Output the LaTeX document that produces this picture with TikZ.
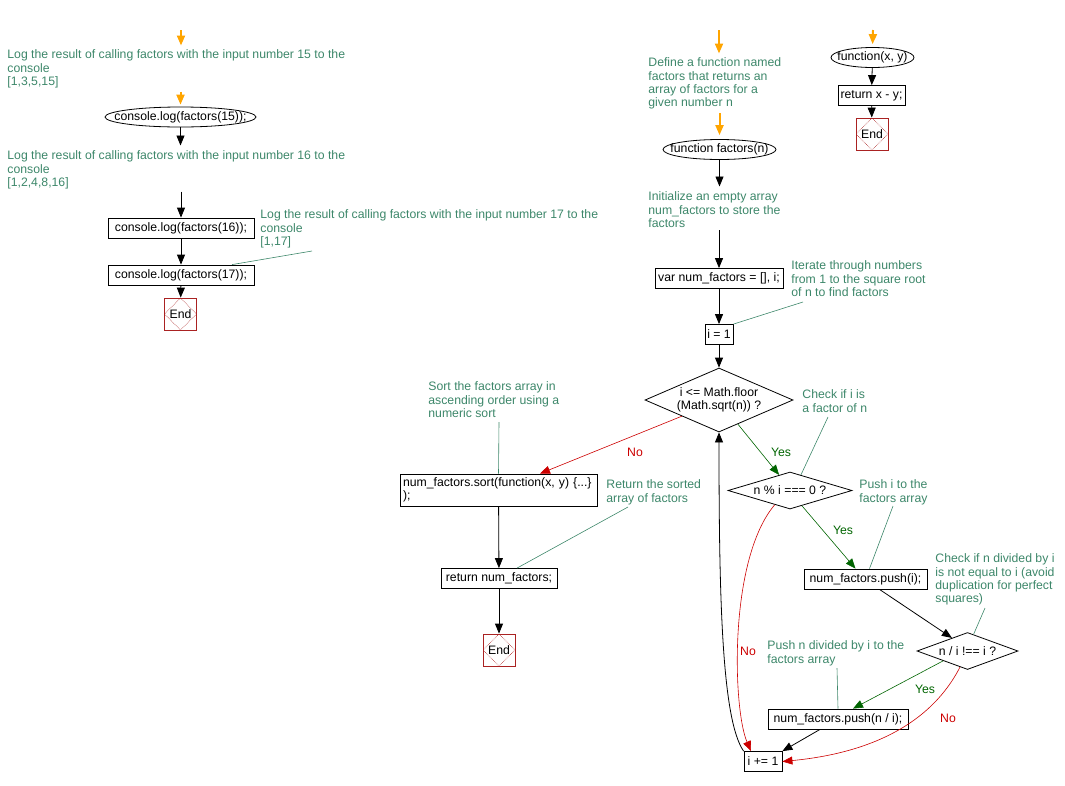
\documentclass[tikz,border=0pt]{standalone}
\usepackage{fontspec}
\setmainfont{Liberation Sans}
\usepackage{tikz}
\usetikzlibrary{arrows.meta,shapes.geometric,positioning,calc}
\definecolor{notegreen}{RGB}{61,135,106}
\definecolor{yesgreen}{RGB}{0,100,0}
\definecolor{nored}{RGB}{204,0,0}
\definecolor{endred}{RGB}{170,34,34}
\definecolor{startorange}{RGB}{255,165,0}

\begin{document}
\begin{tikzpicture}[x=1pt, y=-1pt, font=\fontsize{12.25}{13.4}\selectfont,
        line width=0.8pt, >={Triangle[length=10pt,width=8pt]},
        note/.style={anchor=north west, inner sep=0pt, text=notegreen, align=left},
        noteline/.style={draw=notegreen, line width=0.6pt},
        flow/.style={->, draw=black},
        startflow/.style={->, draw=startorange, line width=2pt},
        yesflow/.style={->, draw=yesgreen, line width=0.6pt},
        noflow/.style={->, draw=nored, line width=0.6pt},
        box/.style={draw, rectangle, minimum height=20pt, inner sep=0pt},
        term/.style={draw, ellipse, inner sep=0pt, minimum height=20pt},
        cond/.style={draw, diamond, inner sep=0pt},
        endnode/.style={draw=endred, rectangle, minimum size=32pt, inner sep=0pt,
            path picture={\draw[endred, densely dotted, line width=0.6pt]
                (path picture bounding box.north) -- (path picture bounding box.east) --
                (path picture bounding box.south) -- (path picture bounding box.west) -- cycle;}},
        yes/.style={text=yesgreen, inner sep=0pt},
        no/.style={text=nored, inner sep=0pt}]
    \useasboundingbox (0,0) rectangle (1065,785);

    % calls on the left
    \coordinate (s15) at (181,30);
    \node[note] (c15) at (7,49.5) {Log the result of calling factors with the input number 15 to the\\console\\{[1,3,5,15]}};
    \node[term, minimum width=151pt, label={center:console.log(factors(15));}] (e15) at (180.5,117) {};
    \node[note] (c16) at (7,150.5) {Log the result of calling factors with the input number 16 to the\\console\\{[1,2,4,8,16]}};
    \node[box, minimum width=146pt] (b16) at (181,228) {console.log(factors(16));};
    \node[box, minimum width=146pt] (b17) at (181,275) {console.log(factors(17));};
    \node[note] (c17) at (260,209.5) {Log the result of calling factors with the input number 17 to the\\console\\{[1,17]}};
    \coordinate (k17) at (312,251);
    \node[endnode] (end1) at (180.5,314) {End};

    \draw[startflow, shorten >=4pt] (s15) -- (s15 |- c15.north);
    \draw[startflow, shorten <=3pt, shorten >=2pt] (e15.north |- c15.south) -- (e15.north);
    \draw[flow, shorten >=5pt] (e15.south) -- (e15.south |- c16.north);
    \draw[flow, shorten <=2pt] (b16.north |- c16.south) -- (b16.north);
    \draw[flow] (b16) -- (b17);
    \draw[flow] (b17) -- (end1);
    \draw[noteline] (k17) -- ([xshift=51pt]b17.north);

    % function factors(n)
    \coordinate (sfn) at (719,30);
    \node[note] (cdef) at (648,57.5) {Define a function named\\factors that returns an\\array of factors for a\\given number n};
    \node[term, minimum width=113pt, label={center:function factors(n)}] (efn) at (719.5,149.5) {};
    \node[note] (cinit) at (648,191.5) {Initialize an empty array\\num\_factors to store the\\factors};
    \node[box, minimum width=128pt] (var) at (719,278.5) {var num\_factors = [], i;};
    \node[note] (citer) at (791,260.5) {Iterate through numbers\\from 1 to the square root\\of n to find factors};
    \coordinate (kiter) at (803,302);
    \node[box, minimum width=28pt] (i1) at (719,334.5) {i = 1};
    \node[cond, minimum width=148pt, minimum height=64pt,
        label={[align=center]center:{i <= Math.floor\\(Math.sqrt(n)) ?}}] (d1) at (719,400) {};
    \node[note] (cchk) at (802,389.5) {Check if i is\\a factor of n};
    \coordinate (kchk) at (828,417);
    \node[cond, minimum width=124pt, minimum height=37pt, label={center:n \% i === 0 ?}] (d2) at (790,490.5) {};
    \node[note] (cpush) at (859,479.5) {Push i to the\\factors array};
    \coordinate (kpush) at (893,506);
    \node[box, minimum width=123pt] (pi) at (865.5,579) {num\_factors.push(i);};
    \node[note] (cne) at (935,553.5) {Check if n divided by i\\is not equal to i (avoid\\duplication for perfect\\squares)};
    \coordinate (kne) at (985,608);
    \node[cond, minimum width=101pt, minimum height=37pt, label={center:n / i !== i ?}] (d3) at (967.5,651) {};
    \node[note] (cpn) at (767,640.5) {Push n divided by i to the\\factors array};
    \coordinate (kpn) at (837,668);
    \node[box, minimum width=140pt] (pn) at (838,719) {num\_factors.push(n / i);};
    \node[box, minimum width=38pt] (inc) at (763,761.5) {i += 1};

    % sort and return
    \node[note] (csort) at (428,381.5) {Sort the factors array in\\ascending order using a\\numeric sort};
    \coordinate (ksort) at (499,422);
    \node[box, minimum width=197pt, minimum height=32pt, text width=191pt, align=left] (sb) at (498.5,490)
        {num\_factors.sort(function(x, y) \{...\}\\);};
    \node[note] (cret) at (606,479.5) {Return the sorted\\array of factors};
    \coordinate (kret) at (628,507);
    \node[box, minimum width=116pt] (ret) at (499,578.5) {return num\_factors;};
    \node[endnode] (end2) at (499,650) {End};

    % compare function
    \coordinate (sxy) at (873,30);
    \node[term, minimum width=83pt, label={center:function(x, y)}] (fxy) at (872.5,57.5) {};
    \node[box, minimum width=67pt] (rxy) at (871.5,95.5) {return x - y;};
    \node[endnode] (end3) at (872,134) {End};

    \node[yes] (y1) at (781,452) {Yes};
    \node[yes] (y2) at (843,530) {Yes};
    \node[yes] (y3) at (925,689) {Yes};
    \node[no] (n1) at (635,452) {No};
    \node[no] (n2) at (748,651) {No};
    \node[no] (n3) at (948,718) {No};

    \draw[startflow, shorten >=4pt] (sfn) -- (sfn |- cdef.north);
    \draw[startflow, shorten <=3pt, shorten >=4pt] (efn.north |- cdef.south) -- (efn.north);
    \draw[flow, shorten >=5pt] (efn.south) -- (efn.south |- cinit.north);
    \draw[flow, shorten <=2pt] (var.north |- cinit.south) -- (var.north);
    \draw[flow] (var) -- (i1);
    \draw[flow] (i1) -- (d1);
    \draw[noteline] (kiter) -- (i1.north east);
    \draw[noteline] (kchk) -- (d2.55);
    \draw[yesflow] (d1.-52) -- (d2.125);
    \draw[noflow] (d1.south west) -- ([xshift=41.5pt]sb.north);
    \draw[noteline] (ksort) -- (sb.north);
    \draw[flow] (sb) -- (ret);
    \draw[flow] (ret) -- (end2);
    \draw[noteline] (kret) -- ([xshift=18pt]ret.north);
    \draw[yesflow] (d2.-52) -- ([xshift=-10pt]pi.north);
    \draw[noteline] (kpush) -- ([xshift=4pt]pi.north);
    \draw[noflow] (d2.-137) .. controls (728,560) and (733,710) .. ([xshift=-12pt]inc.north);
    \draw[flow] ([xshift=14pt]pi.south) -- (d3.140);
    \draw[noteline] (kne) -- (d3.70);
    \draw[yesflow] (d3.-158) -- ([xshift=15pt]pn.north);
    \draw[noflow] (d3.-115) .. controls (925,735) and (850,755) .. (inc.east);
    \draw[noteline] (kpn) -- (pn.north);
    \draw[flow] ([xshift=-18pt]pn.south) -- (inc.north east);
    \draw[flow] (inc.north west) .. controls (722,720) and (719,600) .. (d1.south);

    \draw[startflow, shorten >=3pt] (sxy) -- (fxy.north);
    \draw[flow] (fxy) -- (rxy);
    \draw[flow] (rxy) -- (end3);
\end{tikzpicture}
\end{document}
